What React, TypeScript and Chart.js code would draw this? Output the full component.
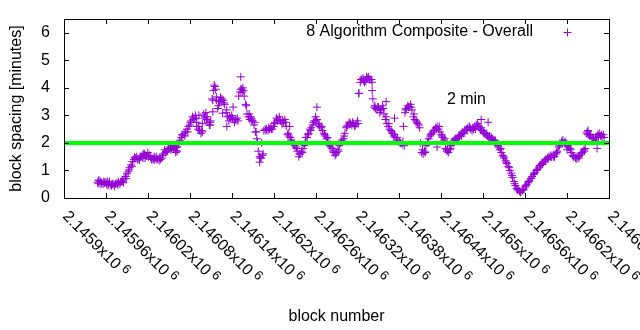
import React, { useEffect, useRef } from "react";
import { Chart, registerables } from "chart.js";

Chart.register(...registerables);

const FONT = '"Liberation Sans", Arial, sans-serif';
const PURPLE = "#9400d3";
const GREEN = "#00ff00";

// block numbers, first sampling (every 4th block)
const blocksA = [
  2145948, 2145952, 2145956, 2145960, 2145964, 2145968, 2145972, 2145976, 2145980, 2145984,
  2145988, 2145992, 2145996, 2146000, 2146004, 2146008, 2146012, 2146016, 2146020, 2146024,
  2146028, 2146032, 2146036, 2146040, 2146044, 2146048, 2146052, 2146056, 2146060, 2146064,
  2146068, 2146072, 2146076, 2146080, 2146084, 2146088, 2146092, 2146096, 2146100, 2146104,
  2146108, 2146112, 2146116, 2146120, 2146124, 2146128, 2146132, 2146136, 2146140, 2146144,
  2146148, 2146152, 2146156, 2146160, 2146164, 2146168, 2146172, 2146176, 2146180, 2146184,
  2146188, 2146192, 2146196, 2146200, 2146204, 2146208, 2146212, 2146216, 2146220, 2146224,
  2146228, 2146232, 2146236, 2146240, 2146244, 2146248, 2146252, 2146256, 2146260, 2146264,
  2146268, 2146272, 2146276, 2146280, 2146284, 2146288, 2146292, 2146296, 2146300, 2146304,
  2146308, 2146312, 2146316, 2146320, 2146324, 2146328, 2146332, 2146336, 2146340, 2146344,
  2146348, 2146352, 2146356, 2146360, 2146364, 2146368, 2146372, 2146376, 2146380, 2146384,
  2146388, 2146392, 2146396, 2146400, 2146404, 2146408, 2146412, 2146416, 2146420, 2146424,
  2146428, 2146432, 2146436, 2146440, 2146444, 2146448, 2146452, 2146456, 2146460, 2146464,
  2146468, 2146472, 2146476, 2146480, 2146484, 2146488, 2146492, 2146496, 2146500, 2146504,
  2146508, 2146512, 2146516, 2146520, 2146524, 2146528, 2146532, 2146536, 2146540, 2146544,
  2146548, 2146552, 2146556, 2146560, 2146564, 2146568, 2146572, 2146576, 2146580, 2146584,
  2146588, 2146592, 2146596, 2146600, 2146604, 2146608, 2146612, 2146616, 2146620, 2146624,
  2146628, 2146632, 2146636, 2146640, 2146644, 2146648, 2146652, 2146656, 2146660, 2146664,
  2146668, 2146672,
];

// block spacing in minutes for blocksA
const spacingA = [
  0.55, 0.6, 0.5, 0.58, 0.52, 0.45, 0.42, 0.55, 0.5, 0.62,
  0.78, 0.95, 1.2, 1.4, 1.5, 1.38, 1.55, 1.45, 1.65, 1.48,
  1.42, 1.5, 1.36, 1.45, 1.75, 1.7, 1.85, 1.9, 1.72, 1.95,
  2.2, 2.35, 2.5, 2.65, 2.95, 3.0, 2.5, 2.35, 3.05, 2.85,
  2.65, 3.6, 4.05, 3.25, 3.65, 3.55, 3.1, 2.8, 3.0, 2.75,
  2.9, 3.85, 4.0, 3.4, 2.95, 2.9, 2.65, 2.15, 1.5, 1.55,
  2.5, 2.45, 2.55, 2.6, 2.9, 2.95, 2.7, 2.85, 2.3, 2.2,
  1.95, 1.85, 1.5, 1.7, 1.9, 2.2, 2.5, 2.65, 2.95, 2.7,
  2.55, 2.35, 2.15, 1.9, 1.8, 1.55, 1.75, 2.0, 2.15, 2.55,
  2.75, 2.65, 2.6, 2.8, 4.2, 4.35, 4.25, 4.4, 4.3, 3.3,
  3.2, 3.1, 3.35, 2.85, 2.6, 2.45, 2.25, 2.1, 2.05, 1.95,
  3.1, 3.35, 3.4, 2.95, 2.8, 2.65, 1.65, 1.7, 2.05, 2.25,
  2.4, 2.55, 2.5, 2.3, 2.1, 1.7, 1.75, 2.05, 2.15, 2.2,
  2.3, 2.35, 2.5, 2.6, 2.45, 2.6, 2.7, 2.5, 2.4, 2.3,
  2.2, 2.2, 2.05, 1.95, 1.75, 1.55, 1.35, 1.15, 0.9, 0.6,
  0.35, 0.25, 0.28, 0.4, 0.55, 0.7, 0.85, 1.0, 1.12, 1.25,
  1.35, 1.45, 1.5, 1.55, 1.6, 1.85, 2.05, 2.0, 1.95, 1.8,
  1.55, 1.45, 1.5, 1.6, 1.75, 2.35, 2.25, 2.2, 2.1, 2.3,
  2.25, 2.3,
];

// block numbers, second sampling
const blocksB = [
  2145950, 2145954, 2145958, 2145962, 2145966, 2145970, 2145974, 2145978, 2145982, 2145986,
  2145990, 2145994, 2145998, 2146002, 2146006, 2146010, 2146014, 2146018, 2146022, 2146026,
  2146030, 2146034, 2146038, 2146042, 2146046, 2146050, 2146054, 2146058, 2146062, 2146066,
  2146070, 2146074, 2146078, 2146082, 2146086, 2146090, 2146094, 2146098, 2146102, 2146106,
  2146110, 2146114, 2146118, 2146122, 2146126, 2146130, 2146134, 2146138, 2146142, 2146146,
  2146150, 2146154, 2146158, 2146162, 2146166, 2146170, 2146174, 2146178, 2146182, 2146186,
  2146190, 2146194, 2146198, 2146202, 2146206, 2146210, 2146214, 2146218, 2146222, 2146226,
  2146230, 2146234, 2146238, 2146242, 2146246, 2146250, 2146254, 2146258, 2146262, 2146266,
  2146270, 2146274, 2146278, 2146282, 2146286, 2146290, 2146294, 2146298, 2146302, 2146306,
  2146310, 2146314, 2146318, 2146322, 2146326, 2146330, 2146334, 2146338, 2146342, 2146346,
  2146350, 2146354, 2146358, 2146362, 2146366, 2146370, 2146374, 2146378, 2146382, 2146386,
  2146390, 2146394, 2146398, 2146402, 2146406, 2146410, 2146414, 2146418, 2146422, 2146426,
  2146430, 2146434, 2146438, 2146442, 2146446, 2146450, 2146454, 2146458, 2146462, 2146466,
  2146470, 2146474, 2146478, 2146482, 2146486, 2146490, 2146494, 2146498, 2146502, 2146506,
  2146510, 2146514, 2146518, 2146522, 2146526, 2146530, 2146534, 2146538, 2146542, 2146546,
  2146550, 2146554, 2146558, 2146562, 2146566, 2146570, 2146574, 2146578, 2146582, 2146586,
  2146590, 2146594, 2146598, 2146602, 2146606, 2146610, 2146614, 2146618, 2146622, 2146626,
  2146630, 2146634, 2146638, 2146642, 2146646, 2146650, 2146654, 2146658, 2146662, 2146666,
  2146670,
];

// block spacing in minutes for blocksB
const spacingB = [
  0.52, 0.56, 0.55, 0.6, 0.48, 0.5, 0.52, 0.58, 0.6, 0.7,
  0.88, 1.1, 1.32, 1.45, 1.42, 1.5, 1.6, 1.52, 1.55, 1.4,
  1.38, 1.42, 1.4, 1.6, 1.68, 1.78, 1.82, 1.88, 1.85, 2.1,
  2.28, 2.4, 2.6, 2.8, 2.9, 2.75, 2.45, 2.7, 2.95, 2.75,
  2.8, 3.9, 3.55, 3.5, 3.6, 3.4, 2.95, 2.9, 2.85, 2.85,
  3.7, 3.95, 3.7, 3.05, 2.85, 2.8, 2.4, 1.7, 1.45, 2.45,
  2.5, 2.5, 2.5, 2.75, 2.85, 2.8, 2.75, 2.6, 2.25, 2.05,
  1.9, 1.7, 1.6, 1.8, 2.05, 2.35, 2.55, 2.8, 2.85, 2.6,
  2.45, 2.25, 2.0, 1.85, 1.65, 1.65, 1.9, 2.1, 2.35, 2.65,
  2.7, 2.7, 2.7, 3.8, 4.3, 4.2, 4.35, 4.3, 3.6, 3.25,
  3.3, 3.2, 3.05, 2.7, 2.5, 2.35, 2.2, 2.05, 2.0, 2.6,
  3.25, 3.3, 3.2, 2.85, 2.7, 2.0, 1.6, 1.9, 2.15, 2.35,
  2.45, 2.6, 2.4, 2.2, 1.8, 1.65, 1.9, 2.1, 2.15, 2.25,
  2.4, 2.45, 2.55, 2.5, 2.5, 2.65, 2.6, 2.45, 2.35, 2.25,
  2.15, 2.1, 2.0, 1.85, 1.65, 1.45, 1.25, 1.0, 0.75, 0.45,
  0.3, 0.22, 0.32, 0.48, 0.62, 0.78, 0.92, 1.05, 1.2, 1.3,
  1.4, 1.5, 1.48, 1.5, 1.7, 1.95, 2.1, 1.98, 1.85, 1.65,
  1.5, 1.42, 1.55, 1.65, 1.8, 2.3, 2.3, 2.15, 2.2, 2.35,
  2.2,
];

// block numbers, third sampling
const blocksC = [
  2145949, 2145953, 2145957, 2145961, 2145965, 2145969, 2145973, 2145977, 2145981, 2145985,
  2145989, 2145993, 2145997, 2146001, 2146005, 2146009, 2146013, 2146017, 2146021, 2146025,
  2146029, 2146033, 2146037, 2146041, 2146045, 2146049, 2146053, 2146057, 2146061, 2146065,
  2146069, 2146073, 2146077, 2146081, 2146085, 2146089, 2146093, 2146097, 2146101, 2146105,
  2146109, 2146113, 2146117, 2146121, 2146125, 2146129, 2146133, 2146137, 2146141, 2146145,
  2146149, 2146153, 2146157, 2146161, 2146165, 2146169, 2146173, 2146177, 2146181, 2146185,
  2146189, 2146193, 2146197, 2146201, 2146205, 2146209, 2146213, 2146217, 2146221, 2146225,
  2146229, 2146233, 2146237, 2146241, 2146245, 2146249, 2146253, 2146257, 2146261, 2146265,
  2146269, 2146273, 2146277, 2146281, 2146285, 2146289, 2146293, 2146297, 2146301, 2146305,
  2146309, 2146313, 2146317, 2146321, 2146325, 2146329, 2146333, 2146337, 2146341, 2146345,
  2146349, 2146353, 2146357, 2146361, 2146365, 2146369, 2146373, 2146377, 2146381, 2146385,
  2146389, 2146393, 2146397, 2146401, 2146405, 2146409, 2146413, 2146417, 2146421, 2146425,
  2146429, 2146433, 2146437, 2146441, 2146445, 2146449, 2146453, 2146457, 2146461, 2146465,
  2146469, 2146473, 2146477, 2146481, 2146485, 2146489, 2146493, 2146497, 2146501, 2146505,
  2146509, 2146513, 2146517, 2146521, 2146525, 2146529, 2146533, 2146537, 2146541, 2146545,
  2146549, 2146553, 2146557, 2146561, 2146565, 2146569, 2146573, 2146577, 2146581, 2146585,
  2146589, 2146593, 2146597, 2146601, 2146605, 2146609, 2146613, 2146617, 2146621, 2146625,
  2146629, 2146633, 2146637, 2146641, 2146645, 2146649, 2146653, 2146657, 2146661, 2146665,
  2146669, 2146673,
];

// block spacing in minutes for blocksC
const spacingC = [
  0.62, 0.5, 0.6, 0.5, 0.6, 0.52, 0.5, 0.48, 0.58, 0.55,
  0.7, 1.02, 1.15, 1.48, 1.4, 1.5, 1.45, 1.55, 1.5, 1.4,
  1.5, 1.4, 1.45, 1.55, 1.65, 1.8, 1.75, 1.8, 1.85, 2.05,
  2.3, 2.25, 2.4, 2.75, 2.85, 2.9, 2.6, 2.45, 2.9, 2.95,
  2.75, 3.55, 3.95, 3.35, 3.55, 3.45, 3.2, 2.95, 2.9, 2.85,
  2.8, 3.95, 3.9, 3.35, 3.05, 2.8, 2.75, 2.05, 1.45, 1.6,
  2.45, 2.55, 2.5, 2.7, 2.8, 2.85, 2.8, 2.75, 2.35, 2.1,
  2.0, 1.8, 1.6, 1.65, 2.0, 2.3, 2.45, 2.75, 2.8, 2.65,
  2.6, 2.3, 2.2, 1.95, 1.7, 1.6, 1.7, 2.05, 2.25, 2.6,
  2.7, 2.75, 2.65, 2.7, 4.3, 4.25, 4.4, 4.3, 4.2, 3.35,
  3.3, 3.2, 3.25, 2.95, 2.7, 2.4, 2.3, 2.2, 2.0, 2.05,
  3.2, 3.3, 3.3, 3.05, 2.75, 2.55, 1.75, 1.65, 2.0, 2.3,
  2.45, 2.5, 2.6, 2.25, 2.15, 1.75, 1.8, 2.0, 2.1, 2.25,
  2.25, 2.45, 2.45, 2.55, 2.55, 2.5, 2.6, 2.55, 2.35, 2.35,
  2.25, 2.15, 2.1, 1.9, 1.8, 1.5, 1.3, 1.1, 0.82, 0.52,
  0.3, 0.2, 0.3, 0.45, 0.6, 0.72, 0.9, 1.02, 1.18, 1.22,
  1.4, 1.42, 1.55, 1.5, 1.65, 1.9, 2.0, 2.05, 1.9, 1.75,
  1.5, 1.5, 1.45, 1.65, 1.7, 2.4, 2.3, 2.15, 2.2, 2.25,
  2.3, 2.2,
];

// scattered single blocks away from the main band
const extraBlocks = [
  2145950, 2145963, 2146015, 2146030, 2146060, 2146062, 2146090, 2146093, 2146098, 2146103,
  2146109, 2146113, 2146115, 2146118, 2146123, 2146127, 2146133, 2146142, 2146153, 2146155,
  2146167, 2146175, 2146180, 2146183, 2146223, 2146246, 2146262, 2146322, 2146341, 2146361,
  2146373, 2146387, 2146434, 2146448, 2146460, 2146497, 2146507, 2146620, 2146650, 2146663,
];
const extraSpacing = [
  0.65, 0.45, 1.6, 1.45, 1.65, 1.7, 2.6, 3.0, 2.4, 3.1,
  2.65, 3.13, 4.1, 3.67, 3.5, 3.08, 2.6, 3.3, 4.4, 3.85,
  2.95, 2.4, 1.3, 2.0, 2.6, 2.2, 3.3, 3.8, 3.9, 3.5,
  2.9, 1.9, 1.85, 1.75, 2.15, 2.85, 2.75, 1.75, 2.45, 1.8,
];

const targetMinutes = 2;
const xMin = 2145900;
const xMax = 2146680;
const yMin = 0;
const yMax = 6.5;
const xTicks = [
  2145900, 2145960, 2146020, 2146080, 2146140, 2146200, 2146260,
  2146320, 2146380, 2146440, 2146500, 2146560, 2146620, 2146680,
];
const xTickLabels = [
  "2.1459", "2.14596", "2.14602", "2.14608", "2.14614", "2.1462", "2.14626",
  "2.14632", "2.14638", "2.14644", "2.1465", "2.14656", "2.14662", "2.14668",
];
const xTickExponent = "6";
const yTicks = [0, 1, 2, 3, 4, 5, 6];
const yTickLabels = ["0", "1", "2", "3", "4", "5", "6"];
const seriesLabel = "8 Algorithm Composite - Overall";
const noteText = "2 min";
const noteBlock = 2146448;
const noteValue = 3.56;

const decorPlugin = {
  id: "decor",
  afterDraw(chart: any) {
    const { ctx, chartArea: a, scales } = chart;
    const xs = scales.x;
    const ys = scales.y;
    ctx.save();
    ctx.strokeStyle = "#000";
    ctx.lineWidth = 1;
    ctx.beginPath();
    for (const v of yTicks) {
      const y = Math.round(ys.getPixelForValue(v)) + 0.5;
      ctx.moveTo(a.left, y);
      ctx.lineTo(a.left + 5, y);
      ctx.moveTo(a.right, y);
      ctx.lineTo(a.right - 5, y);
    }
    for (const v of xTicks) {
      const x = Math.round(xs.getPixelForValue(v)) + 0.5;
      ctx.moveTo(x, a.bottom);
      ctx.lineTo(x, a.bottom - 5);
      ctx.moveTo(x, a.top);
      ctx.lineTo(x, a.top + 5);
    }
    ctx.stroke();
    ctx.strokeRect(Math.round(a.left) + 0.5, Math.round(a.top) + 0.5, Math.round(a.right - a.left), Math.round(a.bottom - a.top));

    ctx.fillStyle = "#000";
    // y tick labels
    ctx.font = `16px ${FONT}`;
    ctx.textAlign = "right";
    ctx.textBaseline = "middle";
    yTicks.forEach((v, i) => {
      ctx.fillText(yTickLabels[i], a.left - 14, ys.getPixelForValue(v));
    });

    // rotated x tick labels
    xTicks.forEach((v, i) => {
      const x = xs.getPixelForValue(v);
      ctx.save();
      ctx.translate(x + 1, a.bottom + 16);
      ctx.rotate(Math.PI / 4);
      ctx.font = `16px ${FONT}`;
      ctx.textAlign = "left";
      ctx.textBaseline = "middle";
      const main = xTickLabels[i] + "x10";
      ctx.fillText(main, 0, 0);
      const w = ctx.measureText(main).width;
      ctx.font = `13px ${FONT}`;
      ctx.fillText(xTickExponent, w + 4, -4);
      ctx.restore();
    });

    // legend
    ctx.font = `16px ${FONT}`;
    ctx.textAlign = "right";
    ctx.textBaseline = "middle";
    ctx.fillText(seriesLabel, 533, a.top + 13);
    const lx = 567.5;
    const ly = a.top + 13.5;
    ctx.strokeStyle = PURPLE;
    ctx.beginPath();
    ctx.moveTo(lx - 4, ly);
    ctx.lineTo(lx + 4, ly);
    ctx.moveTo(lx, ly - 4);
    ctx.lineTo(lx, ly + 4);
    ctx.stroke();

    // note
    ctx.fillStyle = "#000";
    ctx.textAlign = "left";
    ctx.fillText(noteText, xs.getPixelForValue(noteBlock), ys.getPixelForValue(noteValue));
    ctx.restore();
  },
};

export default function App() {
  const ref = useRef<HTMLCanvasElement | null>(null);
  useEffect(() => {
    if (!ref.current) return;
    const pts = blocksA
      .map((b, i) => ({ x: b, y: spacingA[i] }))
      .concat(blocksB.map((b, i) => ({ x: b, y: spacingB[i] })))
      .concat(blocksC.map((b, i) => ({ x: b, y: spacingC[i] })))
      .concat(extraBlocks.map((b, i) => ({ x: b, y: extraSpacing[i] })));
    const chart = new Chart(ref.current, {
      type: "scatter",
      data: {
        datasets: [
          {
            label: "2 min",
            data: [
              { x: xMin, y: targetMinutes },
              { x: xMax, y: targetMinutes },
            ],
            showLine: true,
            borderColor: GREEN,
            borderWidth: 4,
            pointRadius: 0,
            order: 0,
          } as any,
          {
            label: seriesLabel,
            data: pts,
            pointStyle: "cross",
            pointRadius: 4,
            borderWidth: 1,
            borderColor: PURPLE,
            backgroundColor: PURPLE,
            showLine: false,
            order: 1,
          } as any,
        ],
      },
      options: {
        animation: false,
        responsive: false,
        devicePixelRatio: 1,
        layout: { padding: { top: 19, right: 31, left: 0, bottom: 0 } },
        plugins: { legend: { display: false }, tooltip: { enabled: false } },
        scales: {
          x: {
            type: "linear",
            min: xMin,
            max: xMax,
            grid: { display: false, drawTicks: false },
            border: { display: false },
            ticks: { display: false },
            afterBuildTicks: (s: any) => {
              s.ticks = xTicks.map((v) => ({ value: v }));
            },
            afterFit: (s: any) => {
              s.height = 132;
            },
            title: {
              display: true,
              text: "block number",
              color: "#000",
              font: { family: FONT, size: 16 },
              padding: { top: 0, bottom: 4 },
            },
          },
          y: {
            type: "linear",
            min: yMin,
            max: yMax,
            grid: { display: false, drawTicks: false },
            border: { display: false },
            ticks: { display: false },
            afterBuildTicks: (s: any) => {
              s.ticks = yTicks.map((v) => ({ value: v }));
            },
            afterFit: (s: any) => {
              s.width = 64;
            },
            title: {
              display: true,
              text: "block spacing [minutes]",
              color: "#000",
              font: { family: FONT, size: 16 },
              padding: { top: 7, bottom: 0 },
            },
          },
        },
      },
      plugins: [decorPlugin],
    });
    return () => chart.destroy();
  }, []);
  return (
    <div style={{ position: "absolute", left: 0, top: 0, width: 640, height: 330, background: "#fff" }}>
      <canvas ref={ref} width={640} height={330} style={{ width: 640, height: 330 }} />
    </div>
  );
}
